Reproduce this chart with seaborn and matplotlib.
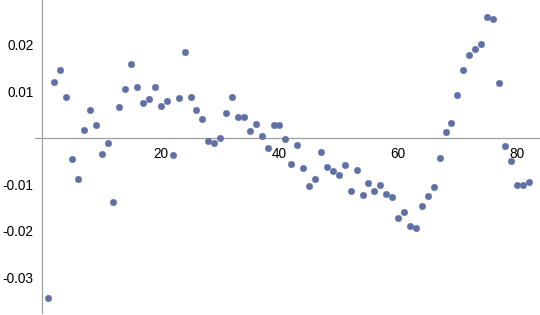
import numpy as np
import pandas as pd
import matplotlib
matplotlib.use("Agg")
import matplotlib.pyplot as plt
import seaborn as sns
from matplotlib.ticker import FixedLocator

x_vals = list(range(1, 83))
y_vals = [
    -0.0346, 0.0120, 0.01458, 0.00877, -0.00469, -0.00892, 0.00168, 0.0059, 0.00269, -0.00348,
    -0.00118, -0.0138, 0.00656, 0.01043, 0.01587, 0.0108, 0.00748, 0.00821, 0.0108, 0.00684,
    0.00785, -0.00376, 0.00843, 0.01845, 0.00878, 0.0059, 0.0039, -0.00082, -0.00118, -0.0002,
    0.00530, 0.00878, 0.00434, 0.00434, 0.00147, 0.00297, 0.00039, -0.00219, 0.00269, 0.00269,
    -0.00025, -0.0057, -0.00154, -0.00663, -0.0105, -0.00892, -0.00312, -0.00634, -0.00727, -0.0080,
    -0.00598, -0.0115, -0.00699, -0.01244, -0.00986, -0.0115, -0.01022, -0.01215, -0.0128, -0.0173,
    -0.0160, -0.01896, -0.01953, -0.01473, -0.01251, -0.01057, -0.00441, 0.00111, 0.00305, 0.00914,
    0.01458, 0.01781, 0.0191, 0.02011, 0.02591, 0.02555, 0.01172, -0.00183, -0.00505, -0.01022,
    -0.01022, -0.00964,
]
x_ticks = [20, 40, 60, 80]
y_ticks = [-0.03, -0.02, -0.01, 0.01, 0.02]
y_tick_labels = ["-0.03", "-0.02", "-0.01", "0.01", "0.02"]

df = pd.DataFrame({"x": x_vals, "y": y_vals})

sns.set_style("white")
plt.rcParams["font.family"] = ["Liberation Sans", "DejaVu Sans"]

fig = plt.figure(figsize=(5.4, 3.15), dpi=100)
ax = fig.add_axes([0, 0, 1, 1])
ax.patch.set_alpha(0)

sns.scatterplot(data=df, x="x", y="y", ax=ax, color="#5F70A6", s=22,
                edgecolor="#5A6A9C", linewidth=0.3, zorder=3)

ax.set_xlim(-7.13, 83.93)
ax.set_ylim(-0.03817, 0.02957)

axis_col = "#A0A0A0"
for side in ["top", "right"]:
    ax.spines[side].set_visible(False)
ax.spines["left"].set_position(("data", 0))
ax.spines["bottom"].set_position(("data", 0))
ax.spines["left"].set_color(axis_col)
ax.spines["bottom"].set_color(axis_col)
ax.spines["left"].set_linewidth(0.9)
ax.spines["bottom"].set_linewidth(0.9)
ax.spines["bottom"].set_bounds(-1.2, 83.7)
ax.spines["left"].set_bounds(-0.0377, 0.0296)

ax.xaxis.set_major_locator(FixedLocator(x_ticks))
ax.xaxis.set_minor_locator(FixedLocator([v for v in range(5, 84, 5) if v % 20 != 0]))
ax.yaxis.set_major_locator(FixedLocator(y_ticks))
ax.set_yticklabels(y_tick_labels)
ax.yaxis.set_minor_locator(FixedLocator([round(v * 0.002, 4) for v in range(-18, 15) if v % 5 != 0]))

ax.tick_params(axis="both", which="major", direction="in", length=4.5, width=0.8,
               color=axis_col, labelsize=9.8, labelcolor="black")
ax.tick_params(axis="both", which="minor", direction="in", length=2.5, width=0.7, color=axis_col)
ax.tick_params(axis="y", which="major", pad=6.5)
ax.tick_params(axis="x", which="major", pad=7)
ax.set_xlabel("")
ax.set_ylabel("")

fig.savefig("out.png", dpi=100)
